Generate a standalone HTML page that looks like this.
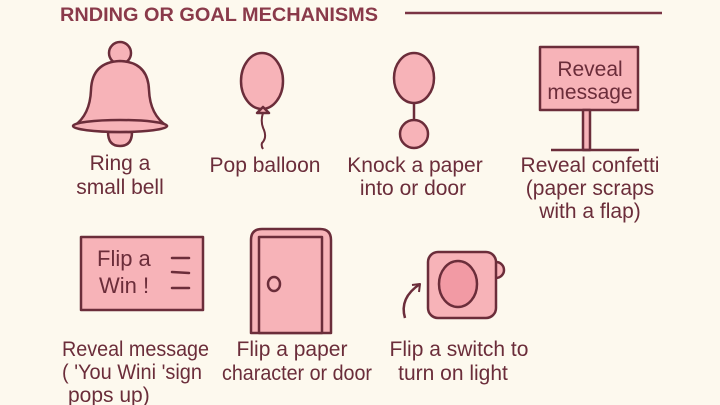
<!DOCTYPE html>
<html><head><style>
html,body{margin:0;padding:0;background:#fdf9ee;}
svg{display:block;}
text{font-family:"Liberation Sans",sans-serif;fill:#6b2d3a;}
</style></head><body>
<svg width="720" height="405" viewBox="0 0 720 405" xmlns="http://www.w3.org/2000/svg">
<rect width="720" height="405" fill="#fdf9ee"/>
<text x="60" y="21" font-size="19" font-weight="bold" style="fill:#8a3a4a" textLength="318" lengthAdjust="spacingAndGlyphs">RNDING OR GOAL MECHANISMS</text>
<line x1="405" y1="13" x2="662" y2="13" stroke="#7a3444" stroke-width="2.5"/>
<g stroke="#6b2d3a" stroke-width="2.5" fill="#f7b3b8" stroke-linejoin="round">
<!-- bell -->
<path d="M108,132 Q108,146 120,146 Q132,146 132,132 Z"/>
<circle cx="120" cy="53" r="11"/>
<path d="M74,126 Q90,115 91,90 Q92,62 120,61 Q148,62 149,90 Q150,115 167,126 Z"/>
<ellipse cx="120" cy="126" rx="47" ry="6"/>
<!-- balloon -->
<ellipse cx="262" cy="81" rx="21" ry="28"/>
<path d="M263,107 L257,113 L269,113 Z"/>
<path d="M263,113 Q260,122 264,130 Q267,138 262,143 Q261,146 263,149" fill="none" stroke-width="2"/>
<!-- knock -->
<ellipse cx="414" cy="78" rx="20" ry="25"/>
<line x1="414" y1="103" x2="414" y2="120"/>
<ellipse cx="414" cy="134" rx="14" ry="14"/>
<!-- sign -->
<rect x="540" y="47" width="98" height="63"/>
<rect x="583" y="110" width="7" height="40"/>
<line x1="551" y1="150" x2="639" y2="150"/>
<!-- flip sign -->
<rect x="81" y="237" width="122" height="73"/>
<!-- door -->
<path d="M251,333 V240 Q251,229 262,229 H320 Q331,229 331,240 V333 Z"/>
<rect x="259" y="237" width="63" height="96"/>
<ellipse cx="274" cy="284" rx="6" ry="7"/>
<!-- switch -->
<circle cx="496" cy="270" r="8"/>
<rect x="428" y="252" width="68" height="66" rx="10"/>
<ellipse cx="458" cy="284" rx="19" ry="23" fill="#f29aa4"/>
<path d="M405,318 Q399,298 420,284" fill="none"/>
<path d="M412,285 L420,284 L419,292" fill="none" stroke-width="2"/>
</g>
<g stroke="#6b2d3a" stroke-width="2.5" stroke-linecap="round">
<line x1="172" y1="258" x2="189" y2="258"/>
<line x1="172" y1="272" x2="189" y2="273"/>
<line x1="172" y1="288" x2="189" y2="288"/>
</g>
<text x="590" y="76" font-size="21" text-anchor="middle">Reveal</text>
<text x="590" y="99" font-size="21" text-anchor="middle">message</text>
<text x="97" y="266" font-size="22">Flip a</text>
<text x="99" y="293" font-size="22">Win !</text>
<g font-size="21" text-anchor="middle">
<text x="120" y="170">Ring a</text>
<text x="120" y="194">small bell</text>
<text x="265" y="172">Pop balloon</text>
<text x="415" y="172">Knock a paper</text>
<text x="413" y="195">into or door</text>
<text x="590" y="172">Reveal confetti</text>
<text x="590" y="195">(paper scraps</text>
<text x="590" y="218">with a flap)</text>
<text x="292" y="356">Flip a paper</text>
<text x="297" y="380" textLength="150" lengthAdjust="spacingAndGlyphs">character or door</text>
<text x="459" y="356">Flip a switch to</text>
<text x="453" y="380">turn on light</text>
</g>
<g font-size="21">
<text x="62" y="356" textLength="147" lengthAdjust="spacingAndGlyphs">Reveal message</text>
<text x="62" y="379" textLength="140" lengthAdjust="spacingAndGlyphs">( 'You Wini 'sign</text>
<text x="68" y="402">pops up)</text>
</g>
</svg>
</body></html>
